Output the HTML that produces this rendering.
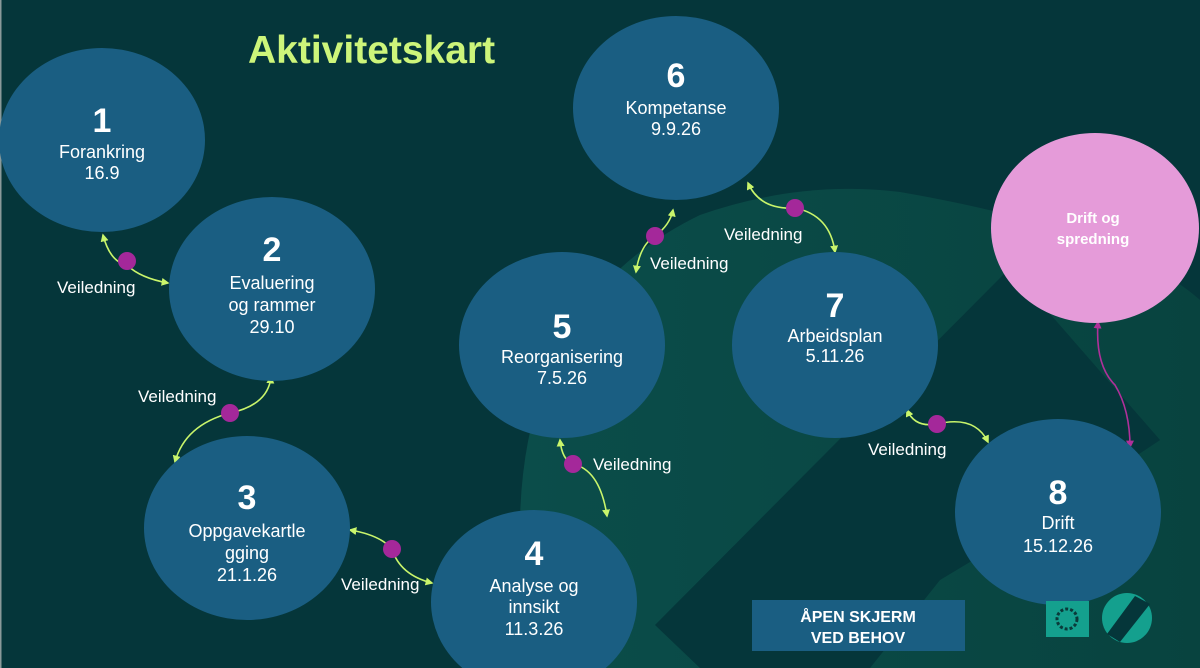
<!DOCTYPE html>
<html><head><meta charset="utf-8"><style>
html,body{margin:0;padding:0;background:#05363a;}
svg{display:block}
text{font-family:"Liberation Sans",Arial,sans-serif;fill:#fff}
</style></head><body>
<svg width="1200" height="668" viewBox="0 0 1200 668" xmlns="http://www.w3.org/2000/svg">
<defs>
<marker id="a" viewBox="0 0 10 10" refX="8" refY="5" markerWidth="5" markerHeight="5" orient="auto-start-reverse"><path d="M0,0L10,5L0,10z" fill="#c9f56b"/></marker>
<marker id="m" viewBox="0 0 10 10" refX="8" refY="5" markerWidth="5" markerHeight="5" orient="auto-start-reverse"><path d="M0,0L10,5L0,10z" fill="#b0309a"/></marker>
<linearGradient id="g" x1="0" x2="1" y1="0" y2="0"><stop offset="0" stop-color="#0b4d4a"/><stop offset="1" stop-color="#08433f"/></linearGradient>
</defs>
<rect width="1200" height="668" fill="#05363a"/>
<rect x="0" y="0" width="1.5" height="668" fill="#8a9a9a"/>
<path d="M520,668 L520,520 Q525,300 700,215 Q800,180 900,192 Q1120,230 1200,300 L1200,668 Z" fill="url(#g)"/>
<path d="M655,625 L1010,268 L1160,440 L1040,520 L940,580 L870,668 L700,668 Z" fill="#05363a"/>
<text x="248" y="63" font-size="39" font-weight="bold" style="fill:#cdf57a">Aktivitetskart</text>
<g fill="none" stroke="#c9f56b" stroke-width="1.6">
<path d="M103,235 Q110,262 127,265 Q140,278 168,283" marker-start="url(#a)" marker-end="url(#a)"/>
<path d="M271,377 Q268,405 230,413 Q185,425 175,462" marker-start="url(#a)" marker-end="url(#a)"/>
<path d="M350,530 Q380,535 392,549 Q400,575 432,583" marker-start="url(#a)" marker-end="url(#a)"/>
<path d="M560,440 Q562,460 573,464 Q600,470 607,516" marker-start="url(#a)" marker-end="url(#a)"/>
<path d="M636,272 Q640,245 655,236 Q670,225 673,210" marker-start="url(#a)" marker-end="url(#a)"/>
<path d="M748,183 Q760,210 795,208 Q830,215 835,252" marker-start="url(#a)" marker-end="url(#a)"/>
<path d="M907,410 Q915,428 937,424 Q975,415 988,442" marker-start="url(#a)" marker-end="url(#a)"/>
</g>
<path d="M1098,322 Q1095,365 1115,385 Q1130,410 1130,447" fill="none" stroke="#b0309a" stroke-width="1.6" marker-start="url(#m)" marker-end="url(#m)"/>
<g fill="#a4289a">
<circle cx="127" cy="261" r="9"/><circle cx="230" cy="413" r="9"/><circle cx="392" cy="549" r="9"/>
<circle cx="573" cy="464" r="9"/><circle cx="655" cy="236" r="9"/><circle cx="795" cy="208" r="9"/><circle cx="937" cy="424" r="9"/>
</g>
<g font-size="17">
<text x="57" y="293">Veiledning</text><text x="138" y="402">Veiledning</text><text x="341" y="590">Veiledning</text>
<text x="593" y="470">Veiledning</text><text x="650" y="269">Veiledning</text><text x="724" y="240">Veiledning</text><text x="868" y="455">Veiledning</text>
</g>
<g fill="#1a5e82">
<ellipse cx="102" cy="140" rx="103" ry="92"/>
<ellipse cx="272" cy="289" rx="103" ry="92"/>
<ellipse cx="247" cy="528" rx="103" ry="92"/>
<ellipse cx="534" cy="602" rx="103" ry="92"/>
<ellipse cx="562" cy="345" rx="103" ry="93"/>
<ellipse cx="676" cy="108" rx="103" ry="92"/>
<ellipse cx="835" cy="345" rx="103" ry="93"/>
<ellipse cx="1058" cy="512" rx="103" ry="93"/>
</g>
<ellipse cx="1095" cy="228" rx="104" ry="95" fill="#e59bd9"/>
<g text-anchor="middle">
<g font-size="34" font-weight="bold">
<text x="102" y="132">1</text><text x="272" y="261">2</text><text x="247" y="509">3</text><text x="534" y="565">4</text>
<text x="562" y="338">5</text><text x="676" y="87">6</text><text x="835" y="317">7</text><text x="1058" y="504">8</text>
</g>
<g font-size="18">
<text x="102" y="158">Forankring</text><text x="102" y="179">16.9</text>
<text x="272" y="289">Evaluering</text><text x="272" y="311">og rammer</text><text x="272" y="333">29.10</text>
<text x="247" y="537">Oppgavekartle</text><text x="247" y="559">gging</text><text x="247" y="581">21.1.26</text>
<text x="534" y="592">Analyse og</text><text x="534" y="613">innsikt</text><text x="534" y="635">11.3.26</text>
<text x="562" y="363">Reorganisering</text><text x="562" y="384">7.5.26</text>
<text x="676" y="114">Kompetanse</text><text x="676" y="135">9.9.26</text>
<text x="835" y="342">Arbeidsplan</text><text x="835" y="362">5.11.26</text>
<text x="1058" y="529">Drift</text><text x="1058" y="552">15.12.26</text>
</g>
<g font-size="15" font-weight="bold"><text x="1093" y="223">Drift og</text><text x="1093" y="244">spredning</text></g>
</g>
<rect x="752" y="600" width="213" height="51" fill="#1a5e82"/>
<g text-anchor="middle" font-size="16" font-weight="bold"><text x="858" y="622">ÅPEN SKJERM</text><text x="858" y="643">VED BEHOV</text></g>
<rect x="1046" y="601" width="43" height="36" fill="#14a08e"/>
<circle cx="1067" cy="619" r="10" fill="none" stroke="#0a3a3a" stroke-width="3" stroke-dasharray="3 2"/>
<circle cx="1127" cy="618" r="25" fill="#14a08e"/>
<path d="M1135,596 L1150,604 L1120,642 L1107,634 Z" fill="#05363a"/>
</svg>
</body></html>
